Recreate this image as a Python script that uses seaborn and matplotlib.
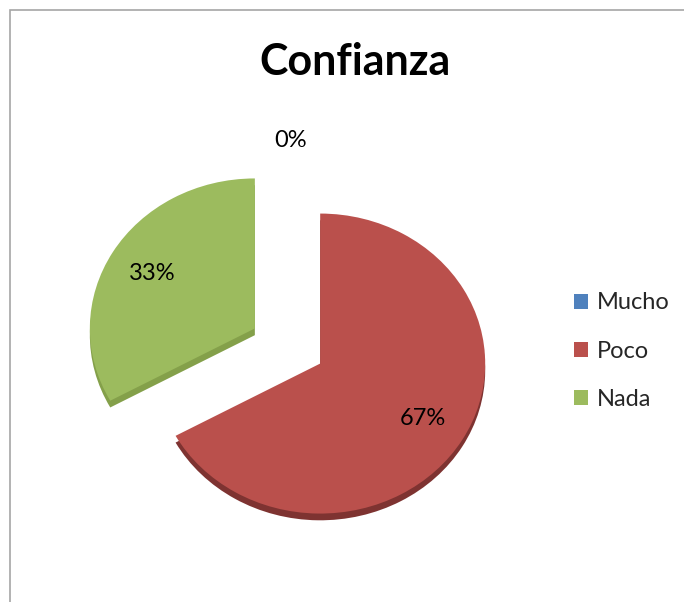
import matplotlib.pyplot as plt
import matplotlib.patches as mpatches
import seaborn as sns

categories = ['Mucho', 'Poco', 'Nada']
values = [0, 67, 33]
colors = ['#4F81BD', '#BA504C', '#9CBB5E']
side_colors = ['#3A5F8C', '#7E3331', '#84A04A']
explode = [0, 0.23, 0.23]

sns.set_theme(style='white')
plt.rcParams['font.family'] = ['Lato', 'DejaVu Sans']

fig = plt.figure(figsize=(6.84, 6.02), dpi=100)
fig.patch.set_facecolor('white')

ax = fig.add_axes([0.0585, 0.0515, 0.7237, 0.7475])

# darker copy underneath gives the slab its edge
ax.pie(values, explode=explode, colors=side_colors, startangle=90,
       counterclock=False, center=(0, -0.045),
       wedgeprops=dict(linewidth=0))

wedges, texts, autotexts = ax.pie(values, explode=explode, colors=colors,
                                  startangle=90, counterclock=False,
                                  autopct='%1.0f%%', pctdistance=0.72,
                                  wedgeprops=dict(linewidth=0),
                                  textprops=dict(fontsize=17, color='black'))
autotexts[0].set_position((0.02, 1.37))

ax.set_aspect('auto')
ax.set_xlim(-1.5, 1.5)
ax.set_ylim(-1.5, 1.5)
ax.axis('off')

fig.text(355 / 684, 1 - 62 / 602, 'Confianza', ha='center', va='center',
         fontsize=31, fontweight='bold', color='black')

fig.legend(wedges, categories, loc='center left',
           bbox_to_anchor=(553 / 684, 1 - 351 / 602), frameon=False,
           fontsize=17, handlelength=0.6, handleheight=0.6,
           handletextpad=0.35, labelspacing=1.15)

frame = mpatches.Rectangle((10 / 684, -0.1), 1.0, (602 - 10) / 602 + 0.1,
                           transform=fig.transFigure, fill=False,
                           edgecolor='#A6A6A6', linewidth=1.2)
fig.patches.append(frame)

fig.savefig('out.png', dpi=100)
